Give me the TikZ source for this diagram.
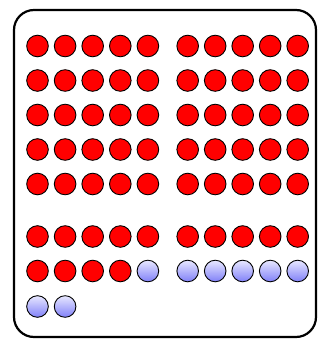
\documentclass[tikz,border=0pt]{standalone}
\usetikzlibrary{positioning}
\definecolor{ballred}{HTML}{FF0000}
\definecolor{balltop}{HTML}{E8E8FF}
\definecolor{ballbot}{HTML}{8080F8}

\begin{document}
\begin{tikzpicture}[x=1pt,y=-1pt,
    redball/.style={circle,draw=black,line width=0.9pt,fill=ballred,minimum size=21.6pt,inner sep=0pt},
    blueball/.style={circle,draw=black,line width=0.9pt,top color=balltop,bottom color=ballbot,minimum size=21.6pt,inner sep=0pt},
    frame/.style={draw=black,line width=2.2pt,rounded corners=20pt}]
    \useasboundingbox (0,0) rectangle (320,340);
    \draw[frame] (14,10) rectangle (316,337);
    % five full rows of ten
    \foreach \r/\y in {1/46,2/80.5,3/115,4/149.5,5/184,6/236.5}{
      \foreach \c in {1,...,5}{
        \node[redball] (l\r\c) at ({37.5+27.6*(\c-1)},\y) {};
        \node[redball] (r\r\c) at ({187.7+27.5*(\c-1)},\y) {};
      }
    }
    % seventh row
    \foreach \c in {1,...,4}
      \node[redball] (l7\c) at ({37.5+27.6*(\c-1)},271) {};
    \node[blueball] (l75) at (147.9,271) {};
    \foreach \c in {1,...,5}
      \node[blueball] (r7\c) at ({187.7+27.5*(\c-1)},271) {};
    % last row
    \node[blueball] (l81) at (37.5,306.5) {};
    \node[blueball] (l82) at (65.1,306.5) {};
\end{tikzpicture}
\end{document}
